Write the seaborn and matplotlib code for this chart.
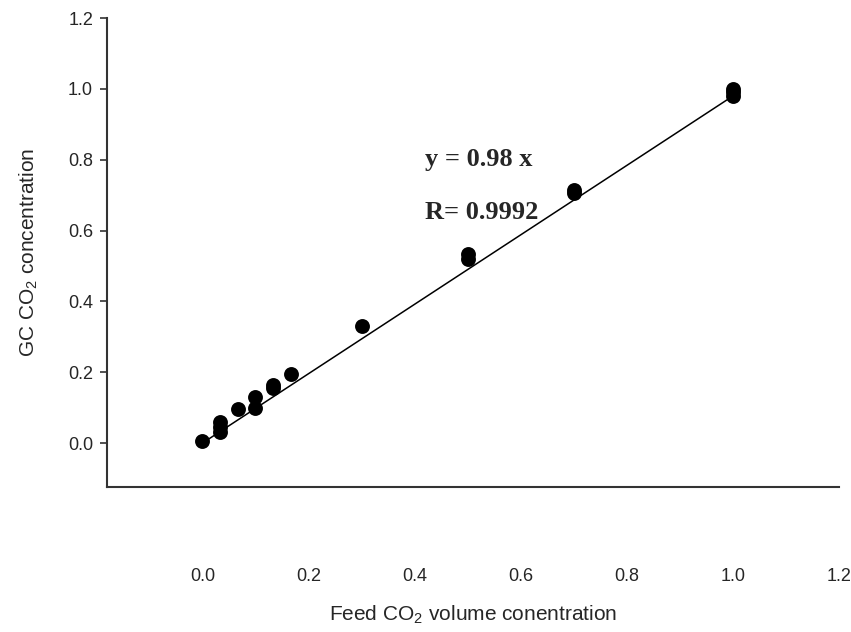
import matplotlib
matplotlib.use("Agg")
import matplotlib.pyplot as plt
import seaborn as sns
import pandas as pd

# Measured data (feed vs GC CO2 concentration)
feed_co2 = [0.0, 0.033, 0.033, 0.033, 0.067, 0.1, 0.1, 0.133, 0.133, 0.167,
            0.3, 0.5, 0.5, 0.7, 0.7, 1.0, 1.0, 1.0]
gc_co2 = [0.005, 0.03, 0.045, 0.06, 0.095, 0.1, 0.13, 0.155, 0.165, 0.195,
          0.33, 0.52, 0.535, 0.705, 0.715, 0.98, 0.99, 1.0]

# Fitted line y = 0.98 x
fit_x = [0.0, 1.0]
fit_y = [0.0, 0.98]

ticks = [0.0, 0.2, 0.4, 0.6, 0.8, 1.0, 1.2]

sns.set_style("white")
plt.rcParams['font.family'] = ['Liberation Sans', 'DejaVu Sans']
plt.rcParams['mathtext.fontset'] = 'custom'
plt.rcParams['mathtext.rm'] = 'Liberation Sans'
plt.rcParams['mathtext.it'] = 'Liberation Sans'

df = pd.DataFrame({'feed': feed_co2, 'gc': gc_co2})
fit = pd.DataFrame({'x': fit_x, 'y': fit_y})

fig = plt.figure(figsize=(8.51, 6.32), dpi=100)
ax = fig.add_axes([0.1257, 0.2294, 0.8602, 0.742])

sns.lineplot(data=fit, x='x', y='y', color='black', linewidth=1.1, ax=ax)
sns.scatterplot(data=df, x='feed', y='gc', color='black', s=115,
                edgecolor='black', linewidth=0, ax=ax, zorder=3)

ax.set_xlim(-0.18, 1.2)
ax.set_ylim(-0.124, 1.2)
ax.set_xticks(ticks)
ax.set_yticks(ticks)
ax.set_xticklabels([f"{t:.1f}" for t in ticks], fontsize=13)
ax.set_yticklabels([f"{t:.1f}" for t in ticks], fontsize=13)

for side in ['top', 'right']:
    ax.spines[side].set_visible(False)
for side in ['left', 'bottom']:
    ax.spines[side].set_color('#333333')
    ax.spines[side].set_linewidth(1.5)

ax.tick_params(axis='y', direction='out', length=5, width=1.2, color='#333333', pad=5, left=True)
ax.tick_params(axis='x', length=0, pad=58)

ax.set_xlabel("Feed CO$_2$ volume conentration", fontsize=15, labelpad=14)
ax.set_ylabel("GC CO$_2$ concentration", fontsize=15, labelpad=20)

ax.text(0.42, 0.80, "y = 0.98 x", family='Liberation Serif', fontweight='bold',
        fontsize=19, va='center', ha='left')
ax.text(0.42, 0.65, "R= 0.9992", family='Liberation Serif', fontweight='bold',
        fontsize=19, va='center', ha='left')

fig.savefig("out.png", dpi=100)
